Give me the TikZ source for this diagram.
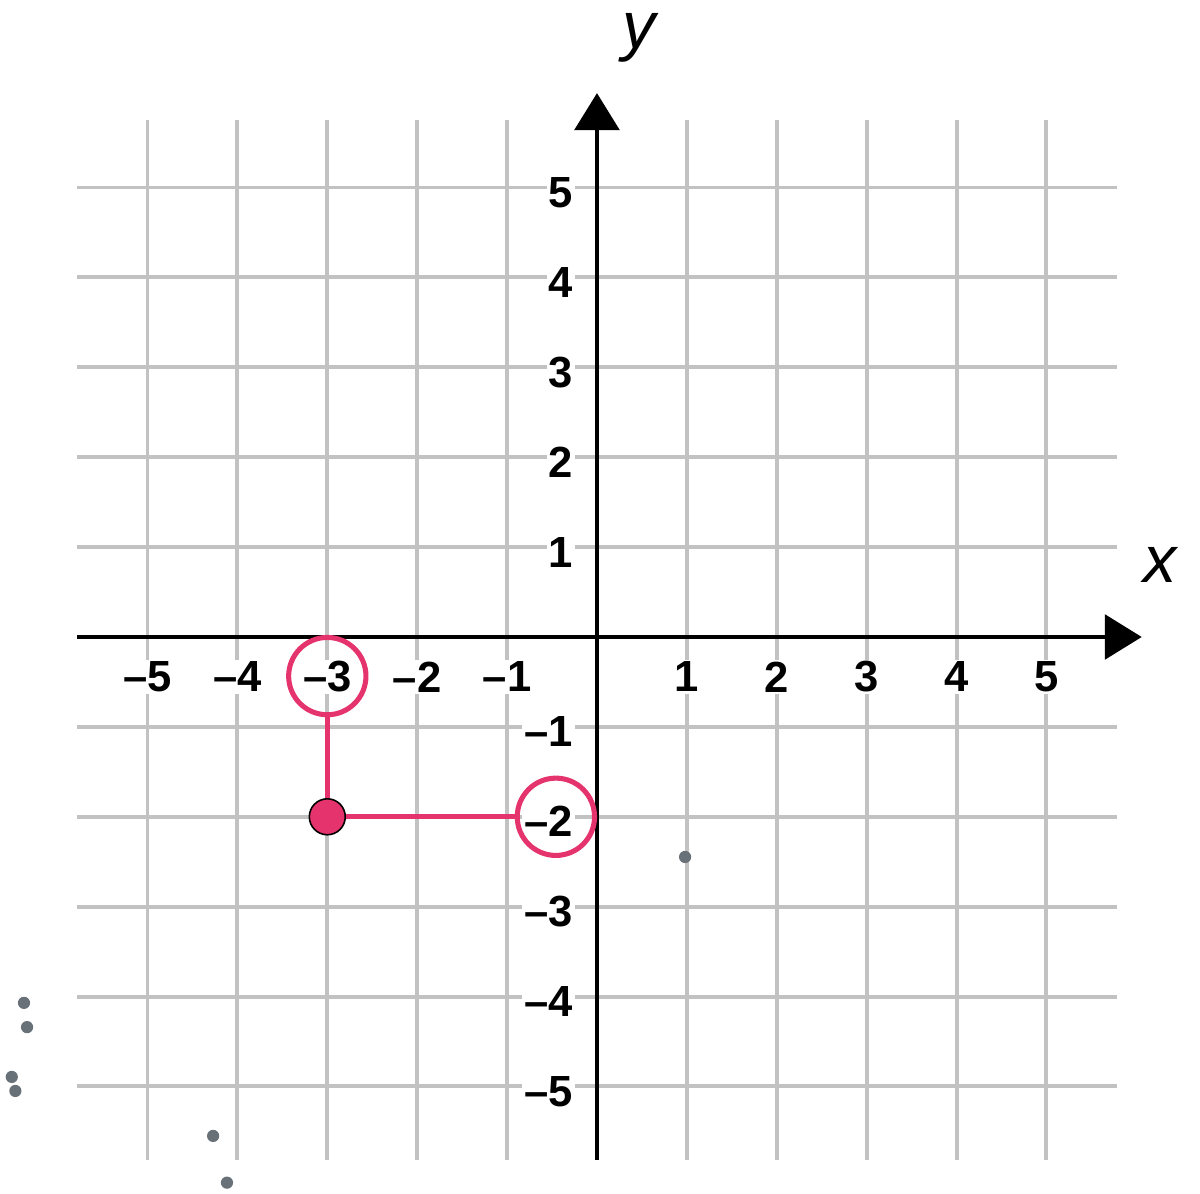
\documentclass[tikz,border=0pt]{standalone}
\usepackage{fontspec}
\setmainfont{Liberation Sans}
\usetikzlibrary{arrows.meta}

\definecolor{gridgray}{RGB}{194,194,194}
\definecolor{markpink}{RGB}{229,51,110}
\definecolor{dotgray}{RGB}{104,112,120}

\tikzset{
  ticklab/.style={font=\bfseries\fontsize{13.8}{15}\selectfont,fill=white,inner sep=0.6pt},
  axlab/.style={font=\itshape\fontsize{21}{24}\selectfont},
  ring/.style={circle,draw=markpink,line width=1.6pt,minimum size=0.86cm,inner sep=0pt},
  strayDot/.style={dotgray,fill=dotgray}
}

\begin{document}
\begin{tikzpicture}[x=1cm,y=1cm]
  \useasboundingbox (-6.641,-6.196) rectangle (6.708,7.086);

  % grid
  \foreach \x in {-5,...,5} {
    \draw[gridgray,line width=1.25pt] (\x,-5.82) -- (\x,5.75);
  }
  \foreach \y in {-5,...,5} {
    \draw[gridgray,line width=1.25pt] (-5.78,\y) -- (5.78,\y);
  }

  % axes
  \draw[line width=1pt,-{Triangle[length=11.7pt,width=14.2pt]}] (-5.78,0) -- (6.06,0);
  \draw[line width=1pt,-{Triangle[length=11.7pt,width=14.2pt]}] (0,-5.82) -- (0,6.05);
  \node[axlab] (xname) at (6.26,0.80) {x};
  \node[axlab] (yname) at (0.47,6.66) {y};

  % tick labels
  \foreach \x in {-5,-4,-3,-2,-1} {
    \node[ticklab] (xl\x) at (\x,-0.445) {–\the\numexpr-\x\relax};
  }
  \foreach \x in {1,...,5} {
    \node[ticklab] (xl\x) at (\x,-0.445) {\x};
  }
  \foreach \y in {1,...,5} {
    \node[ticklab,anchor=east] (yl\y) at (-0.24,\y-0.055) {\y};
  }
  \foreach \y in {-5,-4,-3,-2,-1} {
    \node[ticklab,anchor=east] (yl\y) at (-0.24,\y-0.055) {–\the\numexpr-\y\relax};
  }

  % point (-3,-2) and its coordinates
  \node[ring] (ringx) at (-3,-0.435) {};
  \node[ring] (ringy) at (-0.457,-2) {};
  \node[circle,fill=markpink,draw=black,line width=0.5pt,minimum size=0.4cm,inner sep=0pt] (pt) at (-3,-2) {};
  \draw[markpink,line width=1.6pt] (ringx.south) -- (pt.north);
  \draw[markpink,line width=1.6pt] (pt.east) -- (ringy.west);

  % stray dots
  \fill[strayDot] (0.98,-2.447) circle (0.068);
  \fill[strayDot] (-6.374,-4.07) circle (0.068);
  \fill[strayDot] (-6.34,-4.34) circle (0.068);
  \fill[strayDot] (-6.51,-4.894) circle (0.068);
  \fill[strayDot] (-6.47,-5.05) circle (0.068);
  \fill[strayDot] (-4.27,-5.55) circle (0.068);
  \fill[strayDot] (-4.116,-6.07) circle (0.068);
\end{tikzpicture}
\end{document}
